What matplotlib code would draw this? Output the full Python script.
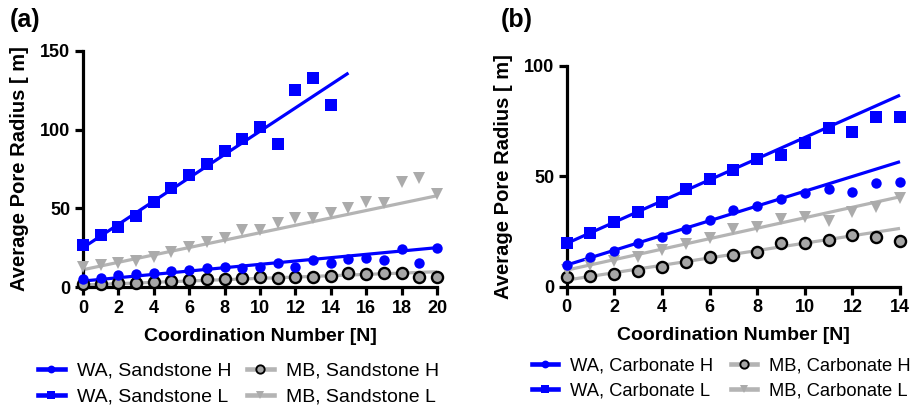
import matplotlib

matplotlib.use("Agg")
import matplotlib.pyplot as plt
from matplotlib.lines import Line2D

plt.rcParams["font.family"] = ["Liberation Sans", "DejaVu Sans"]

BLUE = "#0000FF"
GREY_LINE = "#B4B4B4"
GREY_TRI = "#ABABAB"
GREY_FACE = "#A6A6A6"

# panel (a): sandstone
sand_x = list(range(21))
sand_wa_h = [5, 6, 7.6, 8.4, 9, 10.4, 11, 12, 13, 12, 12.5, 15, 13, 17, 15.5, 18, 18.5, 17, 24, 15.5, 25]
sand_wa_l = [27, 33, 38, 45, 54, 63, 71, 78, 86.5, 94, 101.5, 91, 125, 132.7, 115.7]
sand_mb_h = [2, 2, 2.7, 2.7, 3.4, 3.8, 4.4, 5, 5, 6, 6.6, 6, 6.6, 6.6, 7, 9, 8.4, 8.7, 8.7, 6.6, 6.6]
sand_mb_l = [13, 14, 15, 16.5, 19, 22, 25.6, 28.8, 31.4, 36, 36, 40.5, 43.7, 44, 47, 50, 54, 53.5, 67, 69, 59]
# fitted lines (intercept, slope, x end)
sand_fit = {
    "wa_h": (3.8, 1.06, 20),
    "wa_l": (25.0, 7.4, 15),
    "mb_h": (1.3, 0.42, 20),
    "mb_l": (11.0, 2.35, 20),
}

# panel (b): carbonate
carb_x = list(range(15))
carb_wa_h = [9.8, 13.3, 16.3, 19.6, 22.3, 26.1, 30.2, 34.7, 36.5, 39.5, 42.5, 44, 43, 46.8, 47.5]
carb_wa_l = [19.6, 24.1, 29.1, 33.7, 38.2, 44, 48.6, 53, 57.6, 59.6, 64.9, 72, 69.9, 76.6, 76.6]
carb_mb_h = [4.5, 4.8, 5.6, 7.2, 9, 11.3, 13.3, 14.3, 15.8, 19.6, 19.6, 21.1, 23.4, 22.6, 20.8]
carb_mb_l = [7.5, 9.8, 11.8, 13.3, 16.6, 19.3, 21.9, 26, 26.9, 30.5, 31.7, 29.9, 33.9, 35.9, 40]
carb_fit = {
    "wa_h": (9.8, 3.34, 14),
    "wa_l": (19.6, 4.79, 14),
    "mb_h": (3.0, 1.67, 14),
    "mb_l": (7.5, 2.37, 14),
}

STYLES = {
    "wa_h": dict(color=BLUE, marker="o", ms=7.5, mfc=BLUE, mec=BLUE, mew=0),
    "wa_l": dict(color=BLUE, marker="s", ms=8.5, mfc=BLUE, mec=BLUE, mew=0),
    "mb_h": dict(color=GREY_LINE, marker="o", ms=8, mfc=GREY_FACE, mec="black", mew=1.7),
    "mb_l": dict(color=GREY_LINE, marker="v", ms=8.5, mfc=GREY_TRI, mec=GREY_TRI, mew=0),
}


def draw_panel(ax, x, series, fits, xmax, ymax, yticks):
    for key in ["mb_h", "mb_l", "wa_h", "wa_l"]:
        b, m, xe = fits[key]
        st = STYLES[key]
        ax.plot([0, xe], [b, b + m * xe], color=st["color"], lw=2.3, zorder=2,
                solid_capstyle="butt", clip_on=False)
        y = series[key]
        ax.plot(x[:len(y)], y, ls="none", marker=st["marker"], ms=st["ms"],
                mfc=st["mfc"], mec=st["mec"], mew=st["mew"], zorder=3, clip_on=False)
    ax.set_xlim(0, xmax)
    ax.set_ylim(0, ymax)
    ax.set_xticks(range(0, xmax + 1, 2))
    ax.set_yticks(yticks)
    for s in ["top", "right"]:
        ax.spines[s].set_visible(False)
    for s in ["left", "bottom"]:
        ax.spines[s].set_linewidth(2.3)
    ax.tick_params(width=2.3, length=6, labelsize=13, pad=3)
    for t in ax.get_xticklabels() + ax.get_yticklabels():
        t.set_fontweight("bold")
    ax.set_xlabel("Coordination Number [N]", fontsize=14, fontweight="bold", labelpad=8)
    ax.set_ylabel("Average Pore Radius [ m]", fontsize=14.5, fontweight="bold", labelpad=8)

    handles = []
    for key in ["wa_h", "wa_l", "mb_h", "mb_l"]:
        st = STYLES[key]
        handles.append(Line2D([], [], color=st["color"], lw=3.3, marker=st["marker"],
                              ms=st["ms"] * 0.75, mfc=st["mfc"], mec=st["mec"],
                              mew=st["mew"] * 0.8))
    return handles


fig = plt.figure(figsize=(9.18, 4.07), dpi=100)
ax1 = fig.add_axes([0.0904, 0.2948, 0.3856, 0.580])
ax2 = fig.add_axes([0.6173, 0.2956, 0.3631, 0.543])

h1 = draw_panel(
    ax1, sand_x,
    {"wa_h": sand_wa_h, "wa_l": sand_wa_l, "mb_h": sand_mb_h, "mb_l": sand_mb_l},
    sand_fit, 20, 150, [0, 50, 100, 150],
)
h2 = draw_panel(
    ax2, carb_x,
    {"wa_h": carb_wa_h, "wa_l": carb_wa_l, "mb_h": carb_mb_h, "mb_l": carb_mb_l},
    carb_fit, 14, 100, [0, 50, 100],
)
sand_labels = ["WA, Sandstone H", "WA, Sandstone L", "MB, Sandstone H", "MB, Sandstone L"]
carb_labels = ["WA, Carbonate H", "WA, Carbonate L", "MB, Carbonate H", "MB, Carbonate L"]

leg_kw = dict(ncol=2, frameon=False, handletextpad=0.65, borderaxespad=0, borderpad=0,
              loc="center left")
fig.legend(h1, sand_labels, bbox_to_anchor=(0.041, 0.0565), fontsize=14,
           handlelength=1.4, columnspacing=0.75, labelspacing=0.45, **leg_kw)
fig.legend(h2, carb_labels, bbox_to_anchor=(0.5795, 0.070), fontsize=13.2,
           handlelength=1.42, columnspacing=1.0, labelspacing=0.45, **leg_kw)

fig.text(0.011, 0.95, "(a)", fontsize=18, fontweight="bold", va="center")
fig.text(0.545, 0.95, "(b)", fontsize=18, fontweight="bold", va="center")

fig.savefig("out.png", dpi=100)
